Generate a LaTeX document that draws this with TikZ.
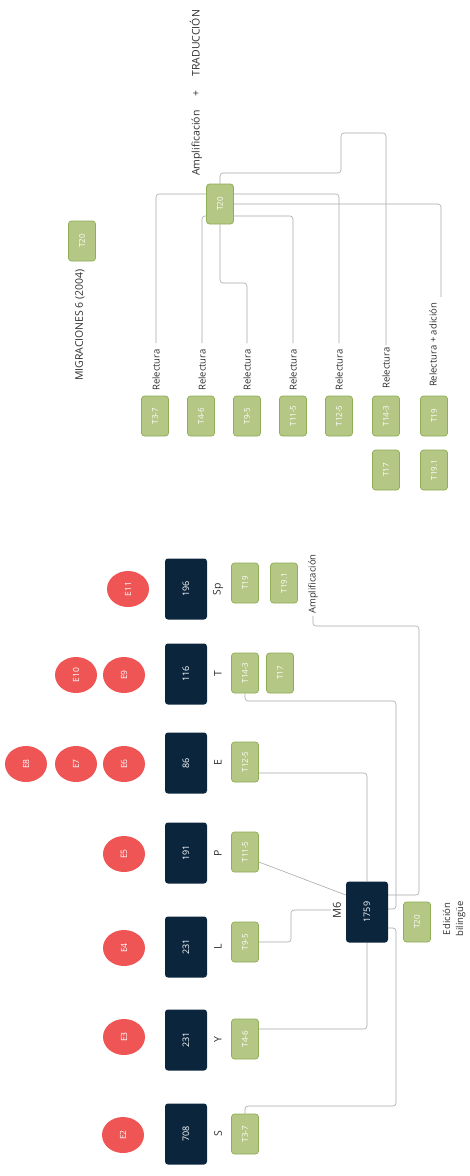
\documentclass[tikz,border=0pt]{standalone}
\usepackage{fontspec}
\setmainfont{Open Sans}
\usepackage{tikz}
\usetikzlibrary{shapes.geometric}
\usetikzlibrary{backgrounds}
\definecolor{navy}{HTML}{0B253D}
\definecolor{leaf}{HTML}{B4C785}
\definecolor{leafedge}{HTML}{8FAE55}
\definecolor{coral}{HTML}{EF5555}
\definecolor{wire}{HTML}{A8A8A8}
\definecolor{ink}{HTML}{2E2E2E}

\begin{document}
\begin{tikzpicture}
        [
            x=1pt, y=-1pt,
            work/.style={rectangle, rounded corners=3pt, fill=navy, text=white, minimum width=61pt, minimum height=42pt, inner sep=1pt, rotate=90, font=\fontsize{9}{10}\selectfont},
            tbox/.style={rectangle, rounded corners=3pt, fill=leaf, draw=leafedge, line width=0.7pt, text=white, minimum width=40pt, minimum height=27pt, inner sep=1pt, rotate=90, font=\fontsize{8}{9}\selectfont},
            ebox/.style={ellipse, fill=coral, text=white, minimum width=36pt, minimum height=42pt, inner sep=0pt, rotate=90, font=\fontsize{8.5}{10}\selectfont},
            lbl/.style={rotate=90, text=ink, inner sep=2pt, font=\fontsize{9.5}{13}\selectfont},
            group/.style={lbl, font=\fontsize{10.5}{12}\selectfont},
            link/.style={draw=wire, line width=0.6pt, rounded corners=3pt},
            rlink/.style={link, shorten >=4pt},
        ]
        \useasboundingbox (0,0) rectangle (469,1176);

        \node[lbl, font=\fontsize{10.5}{12}\selectfont] (title) at (196,93) {Amplificación\hspace{14pt}+\hspace{14pt}TRADUCCIÓN};
        \node[tbox] (hub) at (220,204) {T20};
        \node[tbox] (mig) at (82,241) {T20};
        \node[lbl, font=\fontsize{10.5}{12}\selectfont] (migname) at (80,325) {MIGRACIONES 6 (2004)};

        \node[lbl] (r37) at (156,370) {Relectura};
        \node[lbl] (r46) at (202,370) {Relectura};
        \node[lbl] (r95) at (247,370) {Relectura};
        \node[lbl] (r115) at (293,370) {Relectura};
        \node[lbl] (r125) at (339,370) {Relectura};
        \node[lbl] (r143) at (386,368) {Relectura};
        \node[lbl] (r19) at (433,345) {Relectura + adición};

        \node[tbox] (u37) at (155,416) {T3-7};
        \node[tbox] (u46) at (201,416) {T4-6};
        \node[tbox] (u95) at (247,416) {T9-5};
        \node[tbox] (u115) at (293,416) {T11-5};
        \node[tbox] (u125) at (339,416) {T12-5};
        \node[tbox] (u143) at (386,416) {T14-3};
        \node[tbox] (u19) at (434,416) {T19};
        \node[tbox] (u17) at (386,470) {T17};
        \node[tbox] (u191) at (434,470) {T19.1};

        \node[ebox] (e2) at (123,1135) {E2};
        \node[ebox] (e3) at (124,1037) {E3};
        \node[ebox] (e4) at (124,948) {E4};
        \node[ebox] (e5) at (124,854) {E5};
        \node[ebox] (e6) at (124,764) {E6};
        \node[ebox] (e7) at (76,764) {E7};
        \node[ebox] (e8) at (26,764) {E8};
        \node[ebox] (e9) at (124,675) {E9};
        \node[ebox] (e10) at (76,675) {E10};
        \node[ebox] (e11) at (128,589) {E11};

        \node[work] (s) at (186,1134) {708};
        \node[work] (y) at (186,1040) {231};
        \node[work] (l) at (186,947) {231};
        \node[work] (p) at (186,853) {191};
        \node[work] (e) at (186,763) {86};
        \node[work] (t) at (186,674) {116};
        \node[work] (sp) at (186,589) {196};
        \node[work] (m6) at (367,912) {1759};

        \node[group] (sname) at (218,1134) {S};
        \node[group] (yname) at (218,1040) {Y};
        \node[group] (lname) at (218,947) {L};
        \node[group] (pname) at (218,853) {P};
        \node[group] (ename) at (218,763) {E};
        \node[group] (tname) at (218,674) {T};
        \node[group] (spname) at (218,589) {Sp};
        \node[group, font=\fontsize{11}{12}\selectfont] (m6name) at (337,910) {M6};

        \node[tbox] (t37) at (245,1134) {T3-7};
        \node[tbox] (t46) at (245,1039) {T4-6};
        \node[tbox] (t95) at (245,942) {T9-5};
        \node[tbox] (t115) at (245,852) {T11-5};
        \node[tbox] (t125) at (245,762) {T12-5};
        \node[tbox] (t143) at (245,673) {T14-3};
        \node[tbox] (t17) at (280,673) {T17};
        \node[tbox] (t19) at (245,583) {T19};
        \node[tbox] (t191) at (284,583) {T19.1};
        \node[tbox] (t20) at (417,922) {T20};
        \node[lbl, align=center] (bilingual) at (454,919) {Edición\\bilingüe};
        \node[lbl] (amp) at (313,584) {Amplificación};

        \begin{scope}[on background layer]
        \draw[link] (hub.east) |- (341,173) |- (r143.east |- 0,133) -- (r143.east);
        \draw[rlink] (hub.center |- 0,194) -| (r37.east);
        \draw[rlink] (hub.center |- 0,194) -| (r125.east);
        \draw[rlink] (hub.center) -| ([xshift=8pt]r19.east);
        \draw[rlink] (hub.center |- 0,216) -| (r46.east);
        \draw[rlink] (hub.center |- 0,216) -| (r115.east);
        \draw[rlink] (hub.west) |- (r95.east |- 0,283) -- (r95.east);

        \draw[link] (t37.east) |- (396,1106) |- (m6.south |- 0,928);
        \draw[link] (t46.south |- 0,1029) -| (m6.west);
        \draw[link] (t95.south) -| (291,910) -- (m6name.north);
        \draw[link] (t115.south |- 0,862) -- (m6.north |- 0,895);
        \draw[link] (t125.south |- 0,773) -| (m6.east);
        \draw[link] (t143.west) |- (396,701) |- (m6.south |- 0,909);
        \draw[link] (m6.south |- 0,895) -| (419,626) -| (amp.west);
        \end{scope}
    \end{tikzpicture}
\end{document}
